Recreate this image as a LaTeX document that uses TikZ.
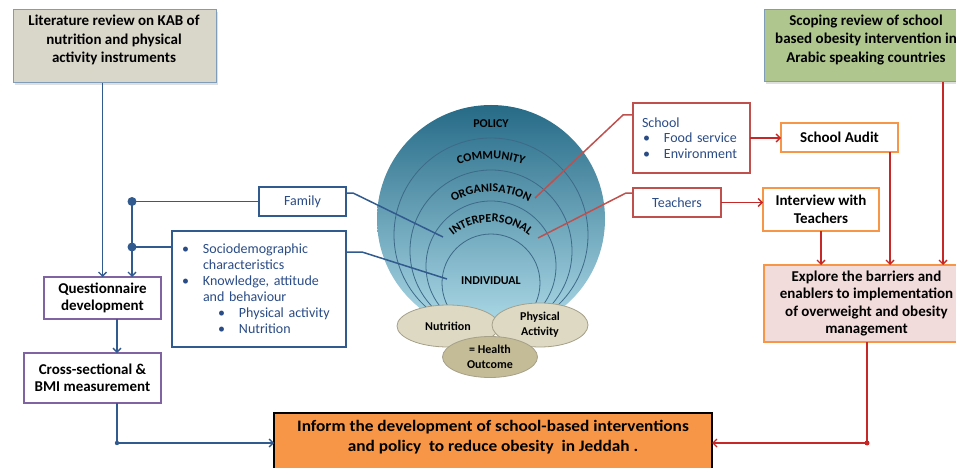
\documentclass[tikz,border=0pt]{standalone}
\usepackage{fontspec}
\usepackage{graphicx}
\setmainfont{Carlito}
\usetikzlibrary{arrows.meta,decorations.text,shapes.geometric,shadows}
\definecolor{litfill}{HTML}{D9D6CA}
\definecolor{litedge}{HTML}{7F9DB9}
\definecolor{scopefill}{HTML}{AFC68F}
\definecolor{navy}{HTML}{315A8F}
\definecolor{txtblue}{HTML}{2A4C86}
\definecolor{purp}{HTML}{8064A2}
\definecolor{boxred}{HTML}{C0504D}
\definecolor{redline}{HTML}{C62828}
\definecolor{orng}{HTML}{F79646}
\definecolor{pinkfill}{HTML}{F2DCDB}
\definecolor{circtop}{HTML}{266A87}
\definecolor{circbot}{HTML}{B0DDEA}
\definecolor{ringline}{HTML}{3D6A88}
\definecolor{ellfill}{HTML}{DDD9C3}
\definecolor{ellhealth}{HTML}{C4BC96}
\definecolor{elledge}{HTML}{A6A08A}
\newcommand\circfont{\bfseries\fontsize{12}{14}\selectfont}
\begin{document}
\begin{tikzpicture}[x=1pt,y=1pt,
  every node/.style={inner sep=0pt, outer sep=0pt},
  arr/.style={-{Straight Barb[length=4pt,width=8pt]}},
  bl/.style={draw=navy, line width=1.4pt},
  rl/.style={draw=redline, line width=1.4pt},
  revbox/.style={draw=litedge, line width=1pt, anchor=north west,
     drop shadow={opacity=0.25, shadow xshift=2pt, shadow yshift=-2pt}},
  revtext/.style={align=center, font=\bfseries\fontsize{15}{18.3}\selectfont},
  purpbox/.style={draw=purp, line width=2pt, fill=white, align=center,
     font=\bfseries\fontsize{15}{17}\selectfont, anchor=north west},
  orbox/.style={draw=orng, line width=2pt, fill=white, align=center,
     font=\bfseries\fontsize{15}{17.5}\selectfont, anchor=north west},
  bluebox/.style={draw=navy, line width=1.6pt, fill=white, text=txtblue,
     font=\fontsize{14}{16}\selectfont, anchor=north west},
  redbx/.style={draw=boxred, line width=1.6pt, fill=white, text=txtblue,
     font=\fontsize{14}{15.5}\selectfont, anchor=north west},
  ell/.style={ellipse, draw=elledge, line width=0.8pt, fill=ellfill, align=center,
     font=\bfseries\fontsize{12}{15}\selectfont},
  ring/.style={draw=ringline, line width=0.8pt},
  circlab/.style={font=\circfont}
]
\useasboundingbox (0,0) rectangle (956,-468);
\clip (0,0) rectangle (956,-468);
\fill[white] (0,0) rectangle (956,-468);

% ---------- nested circles ----------
\shade[top color=circtop, bottom color=circbot] (491,-219) circle (114);
\draw[ring] (491,-235) circle (97);
\draw[ring] (491,-251) circle (81);
\draw[ring] (491,-266) circle (65);
\draw[ring] (491,-283) circle (49);

\node[circlab] (lpol) at (491,-124) {POLICY};
\path[decorate, decoration={text along path, text align=center, text={|\circfont|COMMUNITY}}]
  ([shift={(150:94)}]491,-253) arc[start angle=150, end angle=30, radius=94];
\path[decorate, decoration={text along path, text align=center, text={|\circfont|ORGANISATION}}]
  ([shift={(150:80)}]491,-272) arc[start angle=150, end angle=30, radius=80];
\path[decorate, decoration={text along path, text align=center, text={|\circfont|INTERPERSONAL}}]
  ([shift={(155:60)}]491,-282) arc[start angle=155, end angle=25, radius=60];
\node[circlab] (lind) at (491,-281) {INDIVIDUAL};

% ---------- ellipses ----------
\node[ell, minimum width=102, minimum height=42] (nut) at (448,-326) {Nutrition};
\node[ell, minimum width=96, minimum height=44] (pa) at (540,-325) {Physical\\Activity};
\node[ell, fill=ellhealth, minimum width=95, minimum height=41] (ho) at (490,-357) {= Health\\Outcome};

% ---------- top review boxes ----------
\node[revbox, fill=litfill, minimum width=203, minimum height=73] (lit) at (13,-10) {};
\node[revtext] (littxt) at (114,-40) {Literature review on KAB of\\nutrition and physical\\activity instruments};
\node[revbox, fill=scopefill, minimum width=205, minimum height=72] (sco) at (764,-10) {};
\node[revtext] (scotxt) at (866,-40) {Scoping review of school\\based obesity intervention in\\Arabic speaking countries};

% ---------- left column ----------
\node[purpbox, minimum width=117, minimum height=42] (q) at (44,-277) {Questionnaire\\development};
\node[purpbox, minimum width=137, minimum height=50] (cs) at (24,-353) {Cross-sectional \&\\BMI measurement};
\node[bluebox, minimum width=87, minimum height=29] (fam) at (259,-187) {Family};
\node[bluebox, minimum width=174, minimum height=116, inner xsep=10pt, text width=154pt, align=left] (soc) at (172,-231)
 {\makebox[21pt][l]{•}Sociodemographic\\
  \hspace*{21pt}characteristics\\
  \makebox[21pt][l]{•}Knowledge, attitude\\
  \hspace*{21pt}and behaviour\\
  \hspace*{36pt}\makebox[21pt][l]{•}Physical activity\\
  \hspace*{36pt}\makebox[21pt][l]{•}Nutrition};

% ---------- right column ----------
\node[redbx, minimum width=117, minimum height=70, inner xsep=9pt, text width=99pt, align=left] (sch) at (633,-103)
 {School\\
  \hspace*{1pt}\makebox[21pt][l]{•}Food service\\
  \hspace*{1pt}\makebox[21pt][l]{•}Environment};
\node[redbx, minimum width=88, minimum height=29] (tea) at (633,-188) {Teachers};
\node[orbox, minimum width=117, minimum height=29] (aud) at (781,-123) {School Audit};
\node[orbox, minimum width=116, minimum height=43] (int) at (763,-188) {Interview with\\Teachers};
\node[orbox, fill=pinkfill, minimum width=205, minimum height=77] (exp) at (764,-265)
 {Explore the barriers and\\enablers to implementation\\of overweight and obesity\\management};

% ---------- bottom box ----------
\node[draw=black, line width=2pt, fill=orng, anchor=north west, minimum width=438, minimum height=64] (fin) at (274,-413) {};
\node[font=\bfseries\fontsize{16}{20}\selectfont] (fintxt) at (493,-437)
 {\scalebox{1.08}[1]{\begin{tabular}{@{}c@{}}Inform the development of school-based interventions\\and policy\ \ to reduce obesity\ \ in Jeddah .\end{tabular}}};

% ---------- callouts into the circle ----------
\coordinate (pInter) at (443,-237);
\coordinate (pIndiv) at (447,-279);
\coordinate (pOrg) at (535,-198);
\coordinate (pInter2) at (538,-238);
\draw[bl, line width=1.5pt] ([yshift=-6pt]fam.north east) -- ++(7,0) -- (pInter);
\draw[bl, line width=1.5pt] ([yshift=-21pt]soc.north east) -- ++(16,0) -- (pIndiv);
\draw[draw=boxred, line width=1.5pt] ([yshift=-12pt]sch.north west) -- ++(-10,0) -- (pOrg);
\draw[draw=boxred, line width=1.5pt] ([yshift=-5pt]tea.north west) -- ++(-7,0) -- (pInter2);

% ---------- left connectors ----------
\coordinate (xq) at (117,0);
\coordinate (qin) at ([xshift=29.5pt]q.north);
\coordinate (sw) at ([yshift=-16pt]soc.north west);
\draw[bl,arr] (q.north |- lit.south) -- (q.north);
\draw[bl,arr] (fam.west) -| (qin);
\draw[bl] (sw) -- (sw -| qin);
\fill[navy] (fam.west -| qin) circle (4.5);
\fill[navy] (sw -| qin) circle (4.5);
\draw[bl,arr] (q.south -| xq) -- (cs.north -| xq);
\coordinate (bdot) at (117,-443);
\draw[bl] (cs.south -| bdot) -- (bdot);
\draw[bl,arr] (bdot) -- (fin.west |- bdot);
\fill[navy] (bdot) circle (2.2);

% ---------- right connectors ----------
\coordinate (audx) at (890,0);
\coordinate (scx) at (943,0);
\coordinate (rdot) at (867,-443);
\draw[rl,arr] (sch.east) -- (sch.east -| aud.west);
\draw[rl,arr] (tea.east) -- (tea.east -| int.west);
\draw[rl,arr] (int.south) -- (int.south |- exp.north);
\draw[rl,arr] (aud.south -| audx) -- (exp.north -| audx);
\draw[rl,arr] (sco.south -| scx) -- (exp.north -| scx);
\draw[rl] (exp.south -| rdot) -- (rdot);
\draw[rl,arr] (rdot) -- (fin.east |- rdot);
\fill[redline] (rdot) circle (2.5);
\end{tikzpicture}
\end{document}
